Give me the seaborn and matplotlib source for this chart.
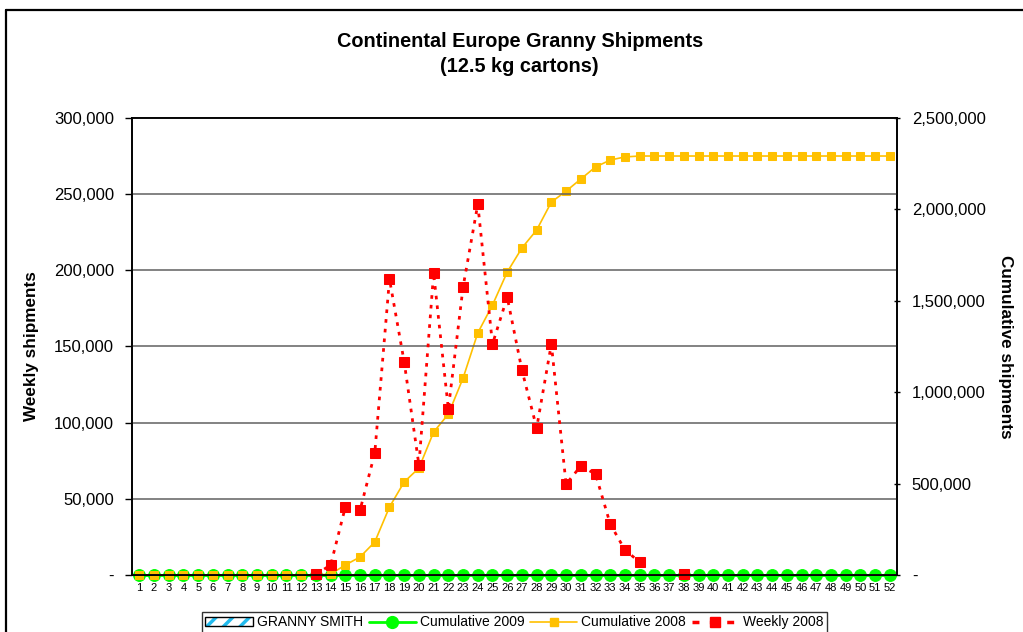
import numpy as np
import pandas as pd
import matplotlib
matplotlib.use('Agg')
import matplotlib.pyplot as plt
import seaborn as sns
from matplotlib.lines import Line2D
from matplotlib.patches import Patch
from matplotlib.ticker import FuncFormatter
from matplotlib.legend_handler import HandlerTuple

# data
weeks = list(range(1, 53))
nan = np.nan
granny_smith = [0] * 52
cumulative_2009 = [0] * 52
cumulative_2008 = ([0] * 13 +
                   [5000, 54700, 98500, 180500, 372000, 508800, 585000, 782000,
                    880000, 1077000, 1324000, 1477000, 1657000, 1789000, 1887000,
                    2040000, 2100000, 2166000, 2232000, 2270000, 2287000] +
                   [2292000] * 18)
weekly_2008 = ([nan] * 12 +
               [500, 6500, 44600, 42600, 80000, 194200, 139800, 72200, 198200,
                108900, 189000, 243400, 151600, 182400, 134500, 96500, 151600,
                59700, 71500, 66300, 33500, 16400, 8500, nan, nan, 500] +
               [nan] * 14)

df = pd.DataFrame({'week': weeks, 'granny': granny_smith,
                   'cum09': cumulative_2009, 'cum08': cumulative_2008,
                   'weekly': weekly_2008})
# split weekly series where there are gaps so the line is broken there
df['seg'] = df['weekly'].isna().cumsum()
wk = df.dropna(subset=['weekly'])

sns.set_style('white')
plt.rcParams['font.family'] = ['Liberation Sans', 'DejaVu Sans']
for k in ('text.color', 'axes.labelcolor', 'xtick.color', 'ytick.color'):
    plt.rcParams[k] = 'black'
plt.rcParams['hatch.linewidth'] = 2.5

GREEN, ORANGE, RED = '#00FF00', '#FFC000', '#FF0000'

fig = plt.figure(figsize=(10.23, 6.32), dpi=100)
ax = fig.add_axes([0.129, 0.0902, 0.748, 0.7231])
ax2 = ax.twinx()

# cumulative series on right axis
sns.lineplot(data=df, x='week', y='cum09', ax=ax2, color=GREEN, lw=2,
             marker='o', markersize=8.5, markeredgecolor=GREEN, clip_on=False)
sns.lineplot(data=df, x='week', y='cum08', ax=ax2, color=ORANGE, lw=1.2,
             marker='s', markersize=6, markeredgecolor=ORANGE, clip_on=False)
ax2.bar(df['week'], df['granny'], width=0.6, color='none', lw=0)

# weekly series on left axis (drawn above)
sns.lineplot(data=wk, x='week', y='weekly', units='seg', estimator=None, ax=ax,
             color=RED, lw=2, linestyle=(0, (1.3, 2.2)), marker='s', markersize=6.5,
             markeredgecolor=RED, clip_on=False)
ax.set_zorder(ax2.get_zorder() + 1)
ax.patch.set_visible(False)

ax.set_xlim(0.5, 52.5)
ax.set_ylim(0, 300000)
ax2.set_ylim(0, 2500000)
ax.set_yticks(range(0, 300001, 50000))
ax2.set_yticks(range(0, 2500001, 500000))
fmt = FuncFormatter(lambda v, p: '-' if v == 0 else f'{v:,.0f}')
ax.yaxis.set_major_formatter(fmt)
ax2.yaxis.set_major_formatter(fmt)
ax.set_xticks(weeks)
ax.set_xticklabels([str(w) for w in weeks], fontsize=8)
ax.tick_params(axis='x', length=0, pad=6)
ax.tick_params(axis='y', labelsize=12, length=5, width=1, direction='out', pad=8)
ax2.tick_params(axis='y', labelsize=12, length=5, width=1, direction='inout', pad=8)
ax.yaxis.grid(True, color='#606060', lw=1.1)
ax.set_axisbelow(True)

for a in (ax, ax2):
    for s in a.spines.values():
        s.set_color('black')
        s.set_linewidth(1.2)
    a.set_xlabel('')

ax.set_ylabel('Weekly shipments', fontsize=12.3, fontweight='bold', labelpad=11)
ax2.set_ylabel('Cumulative shipments', fontsize=12.3, fontweight='bold',
               rotation=-90, labelpad=20)

fig.text(0.508, 0.935, 'Continental Europe Granny Shipments', ha='center',
         va='center', fontsize=14.3, fontweight='bold')
fig.text(0.508, 0.895, '(12.5 kg cartons)', ha='center', va='center',
         fontsize=14.3, fontweight='bold')

# outer chart border (top and left visible)
fig.add_artist(Line2D([6 / 1023, 1.0], [1 - 10 / 632] * 2, color='black', lw=1.6))
fig.add_artist(Line2D([6 / 1023] * 2, [0, 1 - 10 / 632], color='black', lw=1.6))

handles = [
    (Patch(facecolor='white', edgecolor='#22BBEE', hatch='//', lw=0),
     Patch(facecolor='none', edgecolor='black', lw=1)),
    Line2D([], [], color=GREEN, lw=2, marker='o', markersize=8.5),
    Line2D([], [], color=ORANGE, lw=1.2, marker='s', markersize=6),
    Line2D([], [], color=RED, lw=2.5, linestyle=(0, (2, 3)), marker='s', markersize=6.5),
]
labels = ['GRANNY SMITH', 'Cumulative 2009', 'Cumulative 2008', 'Weekly 2008']
leg = fig.legend(handles, labels, loc='upper center', ncol=4,
                 bbox_to_anchor=(0.503, 1 - 612 / 632), fontsize=10,
                 frameon=True, fancybox=False, edgecolor='black',
                 handlelength=3.4, columnspacing=0.4, handletextpad=0.3,
                 borderpad=0.25, borderaxespad=0,
                 handler_map={tuple: HandlerTuple(ndivide=1, pad=0)})
leg.get_frame().set_linewidth(1)

fig.savefig('out.png', dpi=100, facecolor='white')
